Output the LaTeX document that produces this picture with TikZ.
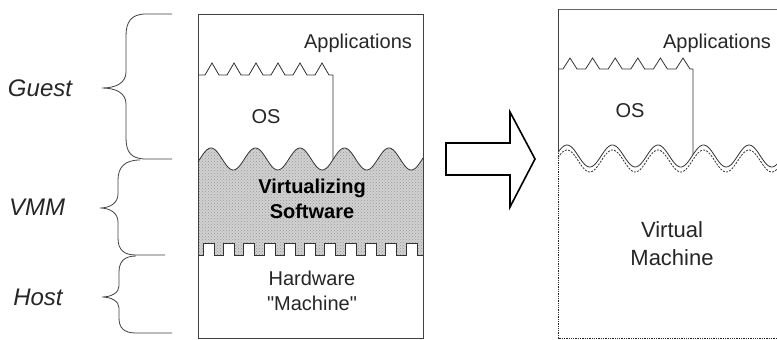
\documentclass[tikz,border=0pt]{standalone}
\usepackage{fontspec}
\setmainfont{Liberation Sans}
\newfontfamily\nomapfont{Liberation Sans}[Ligatures=TeXOff]
\usetikzlibrary{patterns}
\begin{document}
\begin{tikzpicture}[x=1pt,y=-1pt,
  lbl/.style={font=\fontsize{20}{22}\selectfont, anchor=base, inner sep=0pt, text=black!85},
  biglbl/.style={font=\fontsize{22}{24}\selectfont, anchor=base, inner sep=0pt, text=black!85},
  sidelbl/.style={font=\fontsize{24}{26}\selectfont\itshape, anchor=base, inner sep=0pt, text=black!85},
  boldlbl/.style={font=\fontsize{20}{22}\selectfont\bfseries, anchor=base, inner sep=0pt, text=black},
  brace/.style={draw=black!75, line width=0.8pt},
  boxline/.style={draw=black!75, line width=0.9pt},
  thinline/.style={draw=black!80, line width=0.8pt},
  dashline/.style={draw=black!80, line width=0.8pt, dash pattern=on 2pt off 1.3pt},
  dotline/.style={draw=black!85, line width=1pt, dash pattern=on 1.3pt off 1pt},
  bigarrow/.style={draw=black, line width=1.6pt, line join=miter, fill=white}]
\useasboundingbox (0,0) rectangle (777,340);
\clip (0,0) rectangle (777,340);

% ---------- braces ----------
\draw[brace] (172,14) -- (146,14) .. controls (131,14) and (126,22) .. (126,36) -- (126,72) .. controls (126,83) and (116,88) .. (102,88) .. controls (116,88) and (126,93) .. (126,104) -- (126,138) .. controls (126,152) and (131,159) .. (146,159) -- (172,159);
\draw[brace] (140,160) .. controls (125,160) and (118,167) .. (118,180) -- (118,194) .. controls (118,203) and (110,208) .. (100,208) .. controls (110,208) and (118,213) .. (118,222) -- (118,238) .. controls (118,250) and (124,255) .. (136,255) -- (165,255);
\draw[brace] (136,256) .. controls (124,256) and (119,262) .. (119,272) -- (119,286) .. controls (119,293) and (111,297) .. (102,297) .. controls (111,297) and (119,301) .. (119,308) -- (119,318) .. controls (119,328) and (124,333) .. (136,333) -- (172,333);

\node[sidelbl] (guest) at (40,96) {Guest};
\node[sidelbl] (vmm) at (37,215) {VMM};
\node[sidelbl] (host) at (38,305) {Host};

% ---------- left box ----------
\draw[thinline] (198,75) -- (205,75)
  -- (212,63) -- (219,75) -- (227,75)
  -- (234,63) -- (241,75) -- (249,75)
  -- (256,63) -- (263,75) -- (271,75)
  -- (278,63) -- (285,75) -- (293,75)
  -- (300,63) -- (307,75) -- (315,75)
  -- (322,63) -- (329,75) -- (333,75) -- (333,175);

\path[preaction={fill=black!18}, pattern=crosshatch dots, pattern color=black!40]
  plot[domain=198:423,samples=150] (\x,{159-11*cos((\x-211)/44.5*360)}) -- (423,262) -- (198,262) -- cycle;
\draw[thinline] plot[domain=198:423,samples=150] (\x,{159-11*cos((\x-211)/44.5*360)});

\fill[white] (198,255) -- (203,255)
  \foreach \k in {0,...,9}{ -- ++(0,-12) -- ++(11,0) -- ++(0,12) -- ++(9.3,0) }
  -- ++(0,-12) -- ++(11,0) -- ++(0,12) -- (423,255) -- (423,338) -- (198,338) -- cycle;
\draw[thinline] (198,255) -- (203,255)
  \foreach \k in {0,...,9}{ -- ++(0,-12) -- ++(11,0) -- ++(0,12) -- ++(9.3,0) }
  -- ++(0,-12) -- ++(11,0) -- ++(0,12) -- (423,255);

\draw[boxline] (198,14) rectangle (423,338);

\node[lbl] (appL) at (358,48) {Applications};
\node[lbl] (osL) at (266,123) {OS};
\node[boldlbl] (virt) at (312,193) {Virtualizing};
\node[boldlbl] (soft) at (312,218) {Software};
\node[lbl] (hw) at (312,285) {Hardware};
\node[lbl] (mach) at (312,310) {\nomapfont "Machine"};

% ---------- arrow ----------
\draw[bigarrow] (446,143) -- (510,143) -- (510,112) -- (535,159) -- (510,207) -- (510,175) -- (446,175) -- cycle;

% ---------- right box ----------
\draw[draw=black!60, line width=0.9pt] (558,9) -- (780,9);
\draw[boxline] (558,9) -- (558,153);
\draw[thinline] (558,69) -- (563,69)
  -- (570,58) -- (577,69) -- (585.6,69)
  -- (592.6,58) -- (599.6,69) -- (608.2,69)
  -- (615.2,58) -- (622.2,69) -- (630.8,69)
  -- (637.8,58) -- (644.8,69) -- (653.4,69)
  -- (660.4,58) -- (667.4,69) -- (676,69)
  -- (683,58) -- (690,69) -- (693,69) -- (693,175);
\fill[white] plot[domain=558:780,samples=150] (\x,{156-11*cos((\x-567)/45.5*360)}) -- (780,345) -- (558,345) -- cycle;
\draw[thinline] plot[domain=558:780,samples=150] (\x,{156-11*cos((\x-567)/45.5*360)});
\draw[dashline] plot[domain=558:780,samples=150] (\x,{161-11*cos((\x-567)/45.5*360)});
\draw[dotline] (558,153) -- (558,338) -- (780,338);

\node[lbl] (appR) at (717,48) {Applications};
\node[lbl] (osR) at (630,117) {OS};
\node[biglbl] (vir) at (672,237) {Virtual};
\node[biglbl] (machR) at (672,265) {Machine};
\end{tikzpicture}
\end{document}
